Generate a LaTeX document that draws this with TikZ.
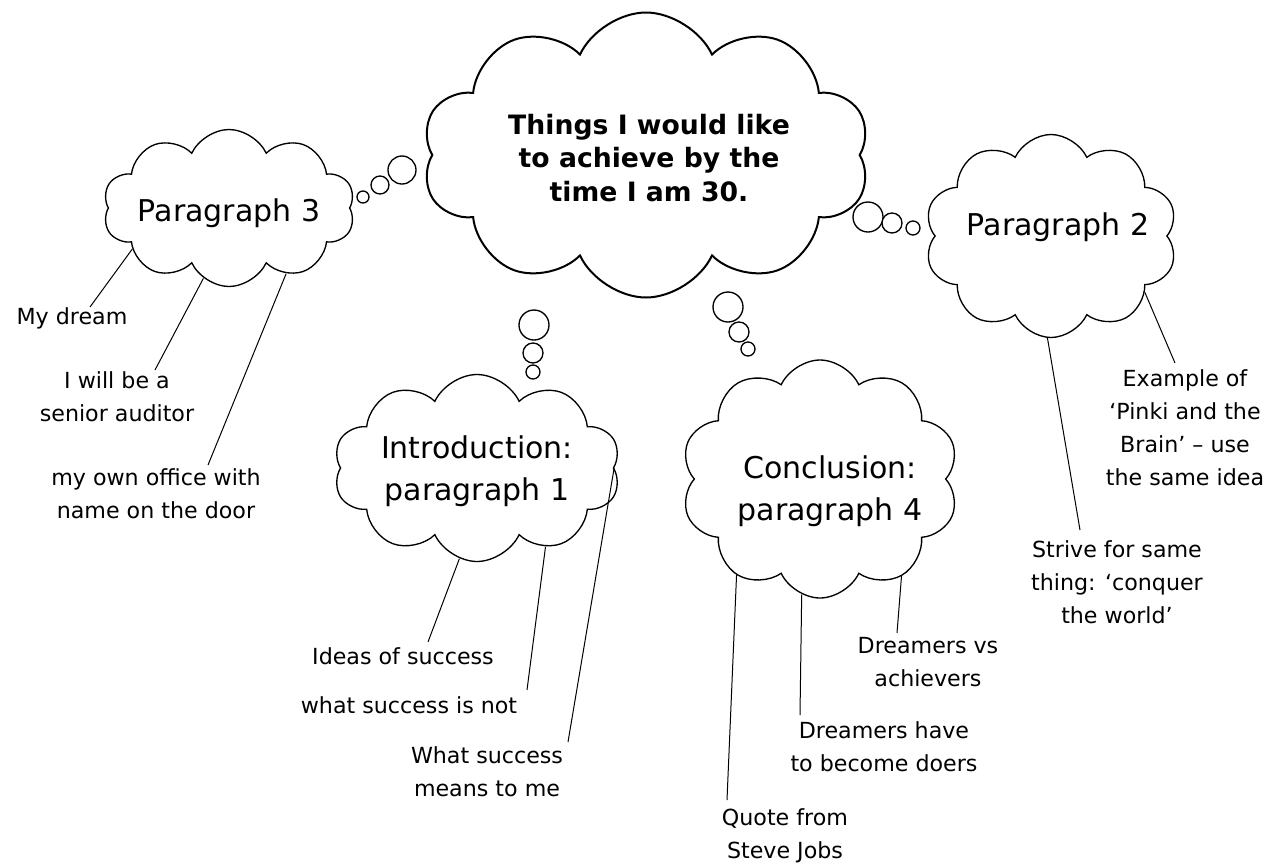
\documentclass[tikz,border=0pt]{standalone}
\usepackage{fontspec}
\setmainfont{DejaVu Sans}
\usetikzlibrary{shapes.symbols}
\begin{document}
\begin{tikzpicture}[x=0.6pt,y=-0.6pt,
 cloudbox/.style={cloud, draw, line width=0.8pt, cloud puffs=10, cloud puff arc=130, inner sep=0pt, fill=white},
 bub/.style={circle, draw, line width=0.8pt, inner sep=0pt, fill=white},
 lbl/.style={align=center, font=\fontsize{13.3}{19.8}\selectfont, inner sep=0pt},
 ctext/.style={align=center, font=\fontsize{18}{25}\selectfont, inner sep=0pt},
 conn/.style={line width=0.6pt}]
\useasboundingbox (0,0) rectangle (1272,865);
% clouds
\node[cloudbox, line width=1.2pt, minimum width=268.8pt, minimum height=171pt] (cmain) at (646,155) {};
\node[cloudbox, minimum width=151.2pt, minimum height=94.2pt] (c3) at (229,208) {};
\node[cloudbox, minimum width=151.8pt, minimum height=121.8pt] (c2) at (1051,236) {};
\node[cloudbox, minimum width=172.2pt, minimum height=112.2pt] (c1) at (477,468) {};
\node[cloudbox, minimum width=166.8pt, minimum height=142.8pt] (c4) at (820,479) {};
% bubbles
\node[bub, minimum size=7.2pt] (b3a) at (363,197) {};
\node[bub, minimum size=10.8pt] (b3b) at (380,185) {};
\node[bub, minimum size=16.8pt] (b3c) at (402,170) {};
\node[bub, minimum size=18pt] (b2a) at (868,217) {};
\node[bub, minimum size=12pt] (b2b) at (892,223) {};
\node[bub, minimum size=8.4pt] (b2c) at (913,228) {};
\node[bub, minimum size=18pt] (b1a) at (534,325) {};
\node[bub, minimum size=12pt] (b1b) at (533,353) {};
\node[bub, minimum size=8.4pt] (b1c) at (533,372) {};
\node[bub, minimum size=18pt] (b4a) at (728,307) {};
\node[bub, minimum size=12pt] (b4b) at (739,332) {};
\node[bub, minimum size=8.4pt] (b4c) at (748,349) {};
% cloud texts
\node[ctext, font=\bfseries\fontsize{16}{20}\selectfont] (tmain) at (649,158) {Things I would like\\to achieve by the\\time I am 30.};
\node[ctext] (t3) at (229,213) {Paragraph 3};
\node[ctext] (t2) at (1058,227) {Paragraph 2};
\node[ctext] (t1) at (477,471) {Introduction:\\paragraph 1};
\node[ctext] (t4) at (830,491) {Conclusion:\\paragraph 4};
% labels
\node[lbl] (dream) at (72,318) {My dream};
\node[lbl] (auditor) at (117,397) {I will be a\\senior auditor};
\node[lbl] (office) at (156,494) {my own office with\\name on the door};
\node[lbl] (ideas) at (403,656) {Ideas of success};
\node[lbl] (notsucc) at (409,705) {what success is not};
\node[lbl] (means) at (487,772) {What success\\means to me};
\node[lbl] (quote) at (785,836) {Quote from\\Steve Jobs};
\node[lbl] (doers) at (884,747) {Dreamers have\\to become doers};
\node[lbl] (achievers) at (928,662) {Dreamers vs\\achievers};
\node[lbl] (pinki) at (1185,428) {Example of\\‘Pinki and the\\Brain’ – use\\the same idea};
\node[lbl] (strive) at (1117,582) {Strive for same\\thing: ‘conquer\\the world’};
% connector free ends
\coordinate (e3a) at (90,307);
\coordinate (e3b) at (155,370);
\coordinate (e3c) at (208,465);
\coordinate (e1a) at (428,642);
\coordinate (e1b) at (527,690);
\coordinate (e1c) at (568,742);
\coordinate (e4a) at (727,800);
\coordinate (e4b) at (800,715);
\coordinate (e4c) at (897,633);
\coordinate (e2a) at (1175,363);
\coordinate (e2b) at (1080,530);
\draw[conn] (c3.203.6) -- (e3a);
\draw[conn] (c3.250.5) -- (e3b);
\draw[conn] (c3.311.9) -- (e3c);
\draw[conn] (c1.259.7) -- (e1a);
\draw[conn] (c1.311.3) -- (e1b);
\draw[conn] (c1.0.4) -- (e1c);
\draw[conn] (c4.229.9) -- (e4a);
\draw[conn] (c4.261) -- (e4b);
\draw[conn] (c4.310) -- (e4c);
\draw[conn] (c2.329.6) -- (e2a);
\draw[conn] (c2.268.3) -- (e2b);
\end{tikzpicture}
\end{document}
